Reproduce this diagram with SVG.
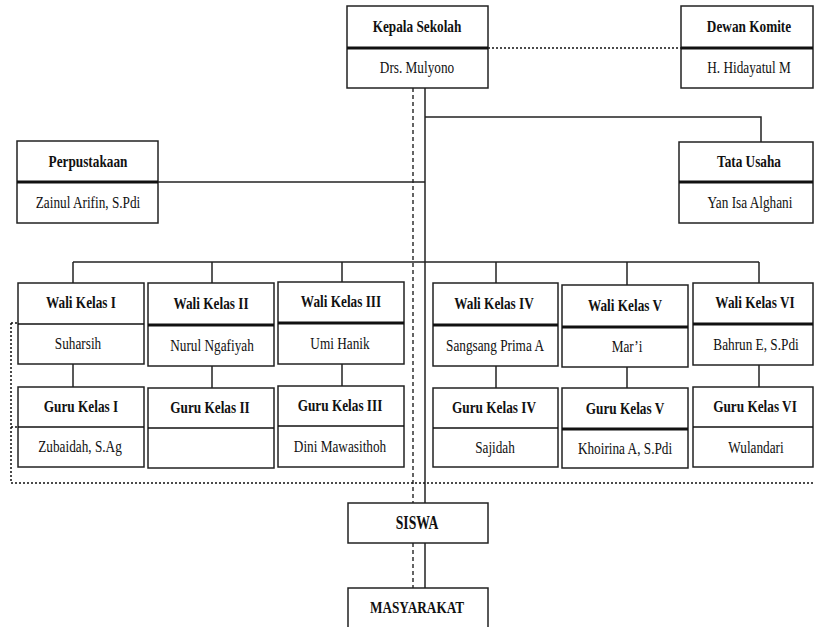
<svg xmlns="http://www.w3.org/2000/svg" width="815" height="627" viewBox="0 0 815 627">
<style>
.box{fill:#fff;stroke:#222;stroke-width:1.5}
.dv{stroke:#111;stroke-width:1.5}
.dk{stroke:#111;stroke-width:3}
.h{font-family:"Liberation Serif","Times New Roman",serif;font-weight:bold;font-size:17px;fill:#111;text-anchor:middle}
.n{font-family:"Liberation Serif","Times New Roman",serif;font-size:17px;fill:#111;text-anchor:middle}
.s{stroke:#222;stroke-width:1.5;fill:none}
.da{stroke:#111;stroke-width:1.3;stroke-dasharray:4 3;fill:none}
.dt{stroke:#111;stroke-width:1.5;stroke-dasharray:2 2;fill:none}
</style>
<rect width="815" height="627" fill="#fff"/>
<g id="connectors">
<line class="s" x1="425" y1="88" x2="425" y2="503"/>
<line class="s" x1="425" y1="543" x2="425" y2="588"/>
<line class="da" x1="413" y1="88" x2="413" y2="503"/>
<line class="da" x1="413" y1="543" x2="413" y2="588"/>
<polyline class="s" points="425,117 761,117 761,142"/>
<line class="s" x1="158" y1="182" x2="425" y2="182"/>
<line class="s" x1="73" y1="262" x2="759" y2="262"/>
<line class="s" x1="73" y1="262" x2="73" y2="283"/>
<line class="s" x1="212" y1="262" x2="212" y2="283"/>
<line class="s" x1="342" y1="262" x2="342" y2="282"/>
<line class="s" x1="496" y1="262" x2="496" y2="283"/>
<line class="s" x1="627" y1="262" x2="627" y2="285"/>
<line class="s" x1="759" y1="262" x2="759" y2="283"/>
<line class="s" x1="73" y1="364" x2="73" y2="387"/>
<line class="s" x1="212" y1="366" x2="212" y2="388"/>
<line class="s" x1="342" y1="364" x2="342" y2="386"/>
<line class="s" x1="496" y1="366" x2="496" y2="388"/>
<line class="s" x1="627" y1="367" x2="627" y2="388"/>
<line class="s" x1="759" y1="365" x2="759" y2="387"/>
<line class="dt" x1="488" y1="48" x2="681" y2="48"/>
<line class="dt" x1="11" y1="483" x2="815" y2="483"/>
<line class="dt" x1="11" y1="323" x2="11" y2="483"/>
<line class="dt" x1="11" y1="323" x2="18" y2="323"/>
<line class="dt" x1="11" y1="427" x2="18" y2="427"/>
</g>
<g id="kepala"><rect class="box" x="347" y="6" width="141" height="82"/><line class="dk" x1="347" y1="48" x2="488" y2="48"/>
<text class="h" transform="matrix(0.78 0 0 1 417 32)">Kepala Sekolah</text>
<text class="n" transform="matrix(0.78 0 0 1 417 73)">Drs. Mulyono</text></g>
<g id="dewan"><rect class="box" x="681" y="6" width="132" height="82"/><line class="dk" x1="681" y1="48" x2="813" y2="48"/>
<text class="h" transform="matrix(0.78 0 0 1 749 32)">Dewan Komite</text>
<text class="n" transform="matrix(0.78 0 0 1 749 73)">H. Hidayatul M</text></g>
<g id="perpus"><rect class="box" x="17" y="141" width="141" height="82"/><line class="dk" x1="17" y1="182" x2="158" y2="182"/>
<text class="h" transform="matrix(0.78 0 0 1 88 167)">Perpustakaan</text>
<text class="n" transform="matrix(0.78 0 0 1 88 208)">Zainul Arifin, S.Pdi</text></g>
<g id="tata"><rect class="box" x="679" y="142" width="134" height="81"/><line class="dk" x1="679" y1="182" x2="813" y2="182"/>
<text class="h" transform="matrix(0.78 0 0 1 749 167)">Tata Usaha</text>
<text class="n" transform="matrix(0.78 0 0 1 750 208)">Yan Isa Alghani</text></g>
<g id="wali1"><rect class="box" x="18" y="283" width="126" height="81"/><line class="dv" x1="18" y1="324" x2="144" y2="324"/>
<text class="h" transform="matrix(0.78 0 0 1 81 308)">Wali Kelas I</text>
<text class="n" transform="matrix(0.78 0 0 1 78 349)">Suharsih</text></g>
<g id="wali2"><rect class="box" x="148" y="283" width="126" height="83"/><line class="dk" x1="148" y1="325" x2="274" y2="325"/>
<text class="h" transform="matrix(0.78 0 0 1 211 309)">Wali Kelas II</text>
<text class="n" transform="matrix(0.78 0 0 1 212 351)">Nurul Ngafiyah</text></g>
<g id="wali3"><rect class="box" x="278" y="282" width="126" height="82"/><line class="dk" x1="278" y1="323" x2="404" y2="323"/>
<text class="h" transform="matrix(0.78 0 0 1 341 307)">Wali Kelas III</text>
<text class="n" transform="matrix(0.78 0 0 1 340 349)">Umi Hanik</text></g>
<g id="guru1"><rect class="box" x="18" y="387" width="126" height="80"/><line class="dv" x1="18" y1="427" x2="144" y2="427"/>
<text class="h" transform="matrix(0.78 0 0 1 81 412)">Guru Kelas I</text>
<text class="n" transform="matrix(0.78 0 0 1 80 452)">Zubaidah, S.Ag</text></g>
<g id="guru2"><rect class="box" x="148" y="388" width="126" height="80"/><line class="dv" x1="148" y1="428" x2="274" y2="428"/>
<text class="h" transform="matrix(0.78 0 0 1 210 413)">Guru Kelas II</text></g>
<g id="guru3"><rect class="box" x="278" y="386" width="126" height="81"/><line class="dv" x1="278" y1="426" x2="404" y2="426"/>
<text class="h" transform="matrix(0.78 0 0 1 340 411)">Guru Kelas III</text>
<text class="n" transform="matrix(0.78 0 0 1 340 452)">Dini Mawasithoh</text></g>
<g id="wali4"><rect class="box" x="433" y="283" width="125" height="83"/><line class="dk" x1="433" y1="325" x2="558" y2="325"/>
<text class="h" transform="matrix(0.78 0 0 1 494 309)">Wali Kelas IV</text>
<text class="n" transform="matrix(0.78 0 0 1 495 351)">Sangsang Prima A</text></g>
<g id="wali5"><rect class="box" x="562" y="285" width="126" height="82"/><line class="dk" x1="562" y1="327" x2="688" y2="327"/>
<text class="h" transform="matrix(0.78 0 0 1 625 311)">Wali Kelas V</text>
<text class="n" transform="matrix(0.78 0 0 1 627 352)">Mar’i</text></g>
<g id="wali6"><rect class="box" x="693" y="283" width="120" height="82"/><line class="dk" x1="693" y1="324" x2="813" y2="324"/>
<text class="h" transform="matrix(0.78 0 0 1 755 308)">Wali Kelas VI</text>
<text class="n" transform="matrix(0.78 0 0 1 756 350)">Bahrun E, S.Pdi</text></g>
<g id="guru4"><rect class="box" x="433" y="388" width="125" height="79"/><line class="dv" x1="433" y1="428" x2="558" y2="428"/>
<text class="h" transform="matrix(0.78 0 0 1 494 413)">Guru Kelas IV</text>
<text class="n" transform="matrix(0.78 0 0 1 495 453)">Sajidah</text></g>
<g id="guru5"><rect class="box" x="562" y="388" width="126" height="80"/><line class="dk" x1="562" y1="429" x2="688" y2="429"/>
<text class="h" transform="matrix(0.78 0 0 1 625 414)">Guru Kelas V</text>
<text class="n" transform="matrix(0.78 0 0 1 625 454)">Khoirina A, S.Pdi</text></g>
<g id="guru6"><rect class="box" x="693" y="387" width="120" height="80"/><line class="dv" x1="693" y1="427" x2="813" y2="427"/>
<text class="h" transform="matrix(0.78 0 0 1 755 412)">Guru Kelas VI</text>
<text class="n" transform="matrix(0.78 0 0 1 756 453)">Wulandari</text></g>
<g id="siswa"><rect class="box" x="348" y="503" width="140" height="40"/>
<text class="h" style="font-size:18px" transform="matrix(0.76 0 0 1 417 529)">SISWA</text></g>
<g id="masyarakat"><rect class="box" x="348" y="588" width="140" height="50"/>
<text class="h" transform="matrix(0.78 0 0 1 417 613)">MASYARAKAT</text></g>
</svg>
